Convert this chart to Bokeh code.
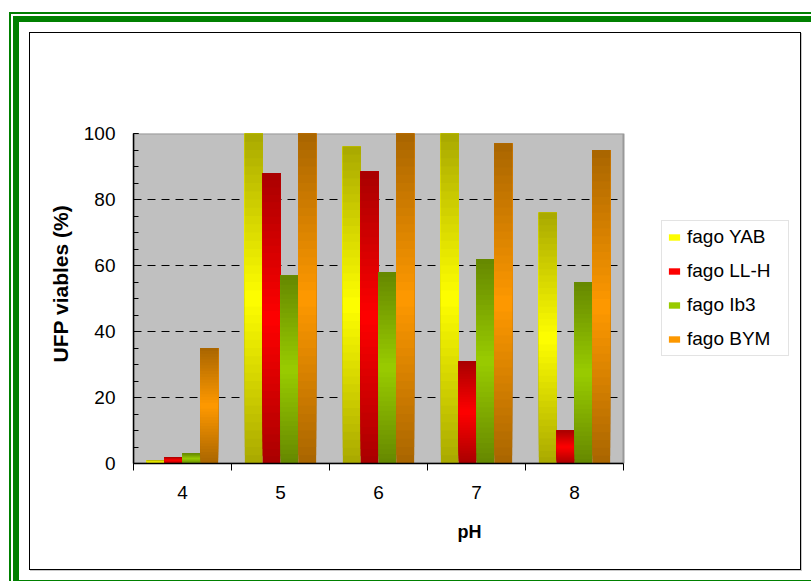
from bokeh.plotting import figure
from bokeh.models import (ColumnDataSource, FixedTicker, Legend, LegendItem, Title, Range1d)
from bokeh.embed import file_html
from bokeh.resources import INLINE

# ---------------- data ----------------
ph = [4, 5, 6, 7, 8]
ph_labels = ["4", "5", "6", "7", "8"]
series = ["fago YAB", "fago LL-H", "fago Ib3", "fago BYM"]
yab = [1, 100, 96, 100, 76]
llh = [2, 88, 88.5, 31, 10]
ib3 = [3, 57, 58, 62, 55]
bym = [35, 100, 100, 97, 95]
y_ticks = [0, 20, 40, 60, 80, 100]
y_minor = [0, 5, 10, 15, 20, 25, 30, 35, 40, 45, 50, 55, 60, 65, 70, 75, 80, 85, 90, 95, 100]
grid_ticks = [20, 40, 60, 80]
cat_edges = [3.5, 4.5, 5.5, 6.5, 7.5, 8.5]

# ---------------- styles ----------------
bright = ["#ffff00", "#ff0000", "#99cc00", "#ff9900"]
dark = ["#a8a800", "#a80000", "#658700", "#a86500"]
FONT = "Liberation Sans"

# figure occupies page x 30..800, y 33..569; decorative frames drawn as CSS rings
W, H = 770, 536
BL, BR, BT, BB = 103, 10, 100, 106
PX_PER_CAT = 98.0
frame_w = W - BL - BR
x_end = cat_edges[0] + frame_w / PX_PER_CAT

p = figure(width=W, height=H, x_range=Range1d(cat_edges[0], x_end),
           y_range=Range1d(y_ticks[0], y_ticks[-1]),
           min_border_left=BL, min_border_right=BR, min_border_top=BT,
           min_border_bottom=BB, output_backend="svg", toolbar_location=None)
p.margin = (33, 0, 0, 30)
p.styles = {"box-shadow": "0 0 0 1px #000000, 1px 1px 0 1px #c8c8c8, 0 0 0 11px #ffffff, "
                          "0 0 0 17px #008000, 0 0 0 19px #ffffff, 0 0 0 21px #008000"}
p.background_fill_color = "white"
p.border_fill_color = "white"
p.outline_line_color = None
p.grid.visible = False

# plot area (gray wall) and dashed gridlines
p.quad(left=[cat_edges[0]], right=[cat_edges[-1]], bottom=[y_ticks[0]], top=[y_ticks[-1]],
       fill_color="#c0c0c0", line_color="#999999", line_width=2, level="image")
p.segment(x0=[cat_edges[0]] * len(grid_ticks), x1=[cat_edges[-1]] * len(grid_ticks),
          y0=grid_ticks, y1=grid_ticks, line_color="black", line_dash="8 6",
          line_width=1, level="underlay")


def hex2rgb(h):
    return tuple(int(h[i:i + 2], 16) for i in (1, 3, 5))


def mix(a, b, f):
    ra, rb = hex2rgb(a), hex2rgb(b)
    return "#%02x%02x%02x" % tuple(int(round(x + (y - x) * f)) for x, y in zip(ra, rb))


bw = 1.0 / (4 + 1.5)
N = 40
items = []
for k, (name, vals) in enumerate(zip(series, [yab, llh, ib3, bym])):
    xs, bots, tops, cols = [], [], [], []
    for c, v in zip(ph, vals):
        for i in range(N):
            t = (i + 0.5) / N
            f = 1 - abs(2 * t - 1)
            xs.append(c + (k - 1.5) * bw)
            bots.append(v * i / N)
            tops.append(v)
            cols.append(mix(dark[k], bright[k], f))
    src = ColumnDataSource(dict(x=xs, bottom=bots, top=tops, color=cols))
    r = p.vbar(x="x", width=bw, bottom="bottom", top="top", fill_color="color",
               line_color=None, source=src)
    items.append(LegendItem(label=name, renderers=[r], index=N // 2))

# axes
p.xaxis.bounds = (cat_edges[0], cat_edges[-1])
p.xaxis.ticker = FixedTicker(ticks=ph, minor_ticks=cat_edges)
p.xaxis.major_label_overrides = {x: l for x, l in zip(ph, ph_labels)}
p.xaxis.major_tick_in = 0
p.xaxis.major_tick_out = 0
p.xaxis.minor_tick_in = 0
p.xaxis.minor_tick_out = 7
p.xaxis.major_label_standoff = 15
p.yaxis.ticker = FixedTicker(ticks=y_ticks, minor_ticks=y_minor)
p.yaxis.major_tick_in = 5
p.yaxis.major_tick_out = 0
p.yaxis.minor_tick_in = 5
p.yaxis.minor_tick_out = 0
p.yaxis.major_label_standoff = 18
for ax in (p.xaxis, p.yaxis):
    ax.axis_line_color = "black"
    ax.axis_line_width = 1.5
    ax.major_tick_line_color = "black"
    ax.minor_tick_line_color = "black"
    ax.major_label_text_font = FONT
    ax.major_label_text_font_size = "19px"
    ax.major_label_text_color = "black"

# legend (inside the widened frame, to the right of the plot area)
legend = Legend(items=items, location=(661 - 133, 463 - 356))
legend.label_text_font = FONT
legend.label_text_font_size = "19px"
legend.label_text_color = "black"
legend.glyph_width = 14
legend.glyph_height = 8
legend.label_standoff = 6
legend.label_height = 20
legend.label_width = 96
legend.spacing = 12
legend.padding = 5
legend.margin = 0
legend.border_line_color = "#c8c8c8"
legend.border_line_width = 1
legend.background_fill_color = "white"
p.add_layout(legend)

# axis titles as side-panel titles
p.add_layout(Title(text="pH", align="left", offset=324, standoff=38, vertical_align="middle",
                   text_font=FONT, text_font_size="18px", text_font_style="bold",
                   text_color="black"), "below")
p.add_layout(Title(text="UFP viables (%)", align="left", offset=101, standoff=16,
                   vertical_align="middle", text_font=FONT, text_font_size="21px",
                   text_font_style="bold", text_color="black"), "left")

open("out.html", "w").write(file_html(p, INLINE))
